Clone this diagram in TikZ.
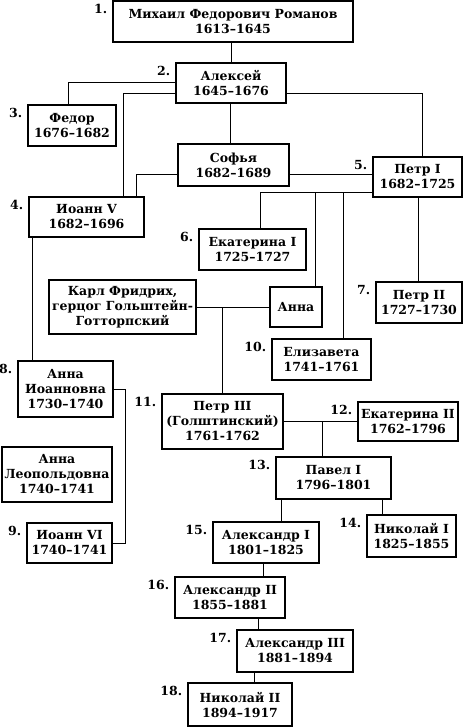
\documentclass[tikz,border=0pt]{standalone}
\usepackage{fontspec}
\setmainfont{DejaVu Serif}
\usetikzlibrary{positioning,calc}

\begin{document}
\begin{tikzpicture}[x=1pt,y=-1pt,
    ruler/.style={draw,line width=1.4pt,align=center,inner sep=1pt,
        font=\bfseries\fontsize{12.5}{15}\selectfont},
    num/.style={font=\bfseries\fontsize{12.5}{14}\selectfont,inner sep=0pt,
        anchor=north east,xshift=-5pt,yshift=-4pt},
    nr/.style={label={[num]north west:#1}},
    link/.style={line width=1pt}]
    \useasboundingbox (0,0) rectangle (463,727);

    % Michael, Alexei and his children
    \node[ruler,nr=1.,minimum width=240pt,minimum height=41pt] (mikhail) at (233,21.5) {Михаил Федорович Романов\\1613–1645};
    \node[ruler,nr=2.,minimum width=110pt,minimum height=40pt] (aleksei) at (231,83) {Алексей\\1645–1676};
    \node[ruler,nr=3.,minimum width=88pt,minimum height=41pt] (fedor) at (72,125.5) {Федор\\1676–1682};
    \node[ruler,minimum width=111pt,minimum height=42pt] (sofya) at (233.5,165) {Софья\\1682–1689};
    \node[ruler,nr=4.,minimum width=115pt,minimum height=40pt] (ioann5) at (86.5,217) {Иоанн V\\1682–1696};
    \node[ruler,nr=5.,minimum width=89pt,minimum height=40pt] (petr1) at (417.5,177) {Петр I\\1682–1725};

    % Peter I and his line
    \node[ruler,nr=6.,minimum width=107pt,minimum height=41pt] (ekat1) at (252.5,249.5) {Екатерина I\\1725–1727};
    \node[ruler,minimum width=52pt,minimum height=40pt] (anna) at (296,307) {Анна};
    \node[ruler,minimum width=147pt,minimum height=54pt] (karl) at (122.5,307) {Карл Фридрих,\\герцог Гольштейн-\\Готторпский};
    \node[ruler,nr=7.,minimum width=86pt,minimum height=41pt] (petr2) at (419,302.5) {Петр II\\1727–1730};
    \node[ruler,nr=10.,minimum width=99pt,minimum height=41pt] (elizaveta) at (321.5,359.5) {Елизавета\\1741–1761};

    % Ivan V and his line
    \node[ruler,nr=8.,minimum width=95pt,minimum height=56pt] (annaioann) at (65.5,389) {Анна\\Иоанновна\\1730–1740};
    \node[ruler,minimum width=110pt,minimum height=55pt] (annaleop) at (57,474.5) {Анна\\Леопольдовна\\1740–1741};
    \node[ruler,nr=9.,minimum width=85pt,minimum height=40pt] (ioann6) at (69.5,543) {Иоанн VI\\1740–1741};

    % Peter III to Nicholas II
    \node[ruler,nr=11.,minimum width=121pt,minimum height=55pt] (petr3) at (222.5,421.5) {Петр III\\(Голштинский)\\1761-1762};
    \node[ruler,nr=12.,minimum width=100pt,minimum height=39pt] (ekat2) at (408,421.5) {Екатерина II\\1762–1796};
    \node[ruler,nr=13.,minimum width=115pt,minimum height=42pt] (pavel) at (333.5,478) {Павел I\\1796–1801};
    \node[ruler,nr=14.,minimum width=89pt,minimum height=42pt] (nikolai1) at (411.5,536) {Николай I\\1825–1855};
    \node[ruler,nr=15.,minimum width=106pt,minimum height=41pt] (alex1) at (266,542.5) {Александр I\\1801–1825};
    \node[ruler,nr=16.,minimum width=110pt,minimum height=41pt] (alex2) at (230,597.5) {Александр II\\1855–1881};
    \node[ruler,nr=17.,minimum width=116pt,minimum height=42pt] (alex3) at (295,651) {Александр III\\1881–1894};
    \node[ruler,nr=18.,minimum width=104pt,minimum height=43pt] (nikolai2) at (240,704.5) {Николай II\\1894–1917};

    % Links
    \draw[link] (aleksei.north) -- (aleksei.north |- mikhail.south);
    \draw[link] (aleksei.west) -| ([xshift=-4pt]fedor.north);
    \draw[link] ([yshift=-11pt]aleksei.west) -| ([xshift=36.5pt]ioann5.north);
    \draw[link] ([xshift=-1pt]aleksei.south) -- ([xshift=-1pt]aleksei.south |- sofya.north);
    \draw[link] ([yshift=-11pt]aleksei.east) -| ([xshift=4.5pt]petr1.north);
    \draw[link] ([yshift=-10pt]sofya.west) -| ([xshift=49.5pt]ioann5.north);
    \draw[link] ([yshift=-10pt]sofya.east) -- ([yshift=-10pt]sofya.east -| petr1.west);

    \coordinate (pb) at ([yshift=-16pt]petr1.west);
    \draw[link] (pb) -| ([xshift=7.5pt]ekat1.north);
    \draw[link] ([xshift=19pt]anna.north) -- ([xshift=19pt]anna.north |- pb);
    \draw[link] ([xshift=21.5pt]elizaveta.north) -- ([xshift=21.5pt]elizaveta.north |- pb);
    \draw[link] ([xshift=0.5pt]petr1.south) -- ([xshift=0.5pt]petr1.south |- petr2.north);
    \draw[link] (karl.east) -- (anna.west);
    \draw[link] (petr3.north) -- (petr3.north |- karl.east);

    \draw[link] ([xshift=4pt]ioann5.south west) -- ([xshift=4pt]ioann5.south west |- annaioann.north);
    \draw[link] (annaioann.east) -- ++(12,0) |- (ioann6.east);

    \draw[link] (petr3.east) -- (ekat2.west);
    \draw[link] ([xshift=-11.5pt]pavel.north) -- ([xshift=-11.5pt]pavel.north |- ekat2.west);
    \draw[link] ([xshift=15pt]alex1.north) -- ([xshift=15pt]alex1.north |- pavel.south);
    \draw[link] ([xshift=-29.5pt]nikolai1.north) -- ([xshift=-29.5pt]nikolai1.north |- pavel.south);
    \draw[link] ([xshift=33pt]alex2.north) -- ([xshift=33pt]alex2.north |- alex1.south);
    \draw[link] ([xshift=-37pt]alex3.north) -- ([xshift=-37pt]alex3.north |- alex2.south);
    \draw[link] ([xshift=14pt]nikolai2.north) -- ([xshift=14pt]nikolai2.north |- alex3.south);
\end{tikzpicture}
\end{document}
